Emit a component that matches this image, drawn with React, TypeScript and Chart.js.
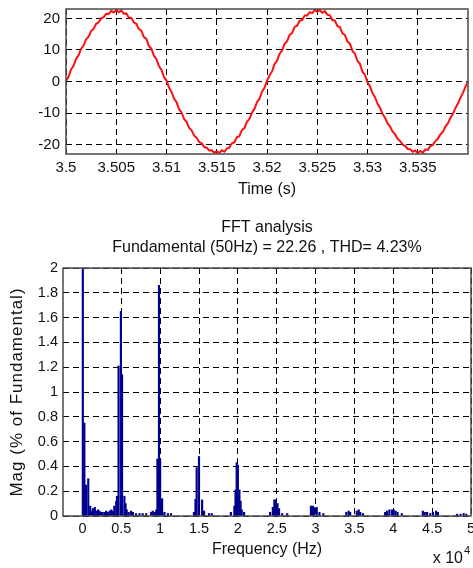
import React, { useEffect, useRef } from "react";
import { Chart, registerables } from "chart.js";

Chart.register(...registerables);

// ---------- top plot: current waveform ----------
const timeStart = 3.5;
const timeStep = 0.00025;
const currentValues = [
  0.2, 1.5, 3.8, 5.0, 7.2, 8.3, 10.4, 11.4, 13.4, 14.2,
  16.0, 16.7, 18.3, 18.8, 20.1, 20.4, 21.5, 21.4, 22.4, 21.9,
  22.7, 22.0, 22.5, 21.5, 21.6, 20.3, 20.2, 18.7, 18.3, 16.6,
  16.1, 14.1, 13.5, 11.3, 10.4, 8.2, 7.1, 4.9, 3.7, 1.4,
  0.3, -1.9, -3.3, -5.4, -6.6, -8.8, -9.8, -11.9, -12.8, -14.7,
  -15.5, -17.2, -17.8, -19.2, -19.6, -20.8, -21.0, -21.9, -21.8, -22.6,
  -22.1, -22.7, -21.8, -22.3, -21.3, -21.0, -19.6, -19.3, -17.7, -17.3,
  -15.4, -14.8, -12.8, -11.9, -9.9, -8.7, -6.6, -5.5, -3.2, -2.0,
  0.2, 1.9, 3.2, 5.5, 6.6, 8.8, 9.8, 12.0, 12.8, 14.8,
  15.4, 17.3, 17.7, 19.3, 19.5, 20.9, 20.9, 22.0, 21.7, 22.7,
  22.1, 22.6, 21.8, 22.3, 21.2, 21.0, 19.5, 19.3, 17.6, 17.3,
  15.3, 14.8, 12.7, 12.0, 9.7, 8.9, 6.5, 5.6, 3.1, 2.1,
  -0.2, -1.6, -3.7, -5.0, -7.1, -8.4, -10.3, -11.5, -13.3, -14.3,
  -15.9, -16.8, -18.2, -18.9, -20.0, -20.5, -21.4, -21.5, -22.3, -21.9,
  -22.8, -22.0, -22.6, -21.6, -21.7, -20.5, -20.1, -18.9, -18.2, -16.8,
  -16.0, -14.3, -13.3, -11.5, -10.3, -8.4, -7.0, -5.1, -3.6, -1.6,
  0.1,
];
const timeTickValues = [3.5, 3.505, 3.51, 3.515, 3.52, 3.525, 3.53, 3.535];
const timeTickLabels = ["3.5", "3.505", "3.51", "3.515", "3.52", "3.525", "3.53", "3.535"];
const currentTickValues = [-20, -10, 0, 10, 20];
const currentTickLabels = ["-20", "-10", "0", "10", "20"];
const timeAxisTitle = "Time (s)";

// ---------- bottom plot: FFT spectrum ----------
const fftFrequencies = [
  50, 250, 350, 450, 750, 1000, 1150, 1350, 1600, 1750,
  2000, 2200, 2400, 2600, 2850, 3050, 3250, 3500, 3700, 3900,
  4100, 4350, 4450, 4650, 4950, 5100, 5400, 5550, 5700, 5950,
  6250, 6500, 6900, 7350, 7750, 8200, 8850, 9050, 9300, 9500,
  9650, 9850, 10000, 10250, 10550, 11000, 11400,
  14350, 14550, 14700, 15000, 15400, 15650, 16300, 16650,
  19100, 19550, 19700, 19850, 20000, 20200, 20350, 20500, 20800,
  24150, 24500, 24700, 24900, 25100, 25300, 25700, 26350,
  29400, 29650, 29800, 30150, 30500, 31000,
  33950, 34250, 34450, 35300, 35550, 35750, 36100,
  38950, 39200, 39500, 39850, 40050, 40300, 40550, 41100,
  43800, 44050, 44350, 44750, 45100, 45500, 45750,
  48200, 48650, 49050, 49400,
];
const fftMagnitudes = [
  100, 0.75, 0.07, 0.25, 0.3, 0.08, 0.04, 0.06, 0.07, 0.04,
  0.05, 0.04, 0.03, 0.03, 0.03, 0.04, 0.03, 0.04, 0.05, 0.04,
  0.08, 0.12, 0.16, 1.21, 1.65, 1.14, 0.16, 0.1, 0.05, 0.03,
  0.04, 0.03, 0.02, 0.02, 0.02, 0.02, 0.03, 0.04, 0.03, 0.05,
  0.46, 1.86, 0.45, 0.14, 0.03, 0.02, 0.02,
  0.03, 0.135, 0.39, 0.48, 0.13, 0.04, 0.02, 0.02,
  0.03, 0.08, 0.21, 0.43, 0.41, 0.21, 0.12, 0.05, 0.03,
  0.03, 0.07, 0.13, 0.13, 0.1, 0.06, 0.02, 0.02,
  0.08, 0.08, 0.07, 0.07, 0.03, 0.02,
  0.03, 0.04, 0.03, 0.04, 0.05, 0.03, 0.02,
  0.03, 0.04, 0.05, 0.05, 0.05, 0.04, 0.03, 0.02,
  0.04, 0.03, 0.03, 0.02, 0.03, 0.04, 0.03,
  0.015, 0.015, 0.02, 0.015,
];
const freqTickValues = [0, 5000, 10000, 15000, 20000, 25000, 30000, 35000, 40000, 45000, 50000];
const freqTickLabels = ["0", "0.5", "1", "1.5", "2", "2.5", "3", "3.5", "4", "4.5", "5"];
const magTickValues = [0, 0.2, 0.4, 0.6, 0.8, 1, 1.2, 1.4, 1.6, 1.8, 2];
const magTickLabels = ["0", "0.2", "0.4", "0.6", "0.8", "1", "1.2", "1.4", "1.6", "1.8", "2"];
const fftTitleLines = ["FFT analysis", "Fundamental (50Hz) = 22.26 , THD= 4.23%"];
const freqAxisTitle = "Frequency (Hz)";
const magAxisTitle = "Mag (% of Fundamental)";
const freqExponentBase = "x 10";
const freqExponent = "4";

const FONT = "'Liberation Sans', Arial, Helvetica, sans-serif";
const TEXT = "#111111";

const framePlugin = {
  id: "frame",
  afterDatasetsDraw(chart: any) {
    const { ctx, chartArea: a } = chart;
    ctx.save();
    ctx.strokeStyle = "#4a4a4a";
    ctx.lineWidth = 1.5;
    ctx.strokeRect(a.left, a.top, a.right - a.left, a.bottom - a.top);
    ctx.restore();
  },
};

const fftTextPlugin = {
  id: "fftText",
  afterDraw(chart: any) {
    const { ctx, chartArea: a } = chart;
    ctx.save();
    ctx.fillStyle = TEXT;
    // rotated y title
    ctx.save();
    ctx.translate(17.5, (a.top + a.bottom) / 2);
    ctx.rotate(-Math.PI / 2);
    ctx.font = `17px ${FONT}`;
    (ctx as any).letterSpacing = "1px";
    ctx.textAlign = "center";
    ctx.textBaseline = "middle";
    ctx.fillText(magAxisTitle, 0, 0);
    ctx.restore();
    // exponent
    ctx.font = `16px ${FONT}`;
    ctx.textAlign = "right";
    ctx.textBaseline = "middle";
    ctx.fillText(freqExponentBase, a.right - 8, a.bottom + 43);
    ctx.font = `11px ${FONT}`;
    ctx.textAlign = "left";
    ctx.fillText(freqExponent, a.right - 7, a.bottom + 35);
    ctx.restore();
  },
};

function fixSize(size: number, horizontal: boolean) {
  return (scale: any) => {
    if (horizontal) scale.height = size;
    else scale.width = size;
    scale.paddingLeft = 0;
    scale.paddingRight = 0;
    scale.paddingTop = 0;
    scale.paddingBottom = 0;
  };
}

const gridCfg = { color: "#000000", lineWidth: 1, drawTicks: false, offset: false };
const borderCfg = { display: false, dash: [6, 4] };

export default function App() {
  const topRef = useRef<HTMLCanvasElement | null>(null);
  const botRef = useRef<HTMLCanvasElement | null>(null);

  useEffect(() => {
    if (!topRef.current || !botRef.current) return;

    const top = new Chart(topRef.current, {
      type: "line",
      data: {
        datasets: [
          {
            data: currentValues.map((v, i) => ({ x: timeStart + i * timeStep, y: v })),
            borderColor: "#ff1010",
            borderWidth: 2,
            pointRadius: 0,
            tension: 0,
            fill: false,
          },
        ],
      },
      options: {
        animation: false,
        responsive: false,
        maintainAspectRatio: false,
        layout: { padding: { left: 0, right: 5, top: 9, bottom: 0 } },
        plugins: { legend: { display: false }, tooltip: { enabled: false }, title: { display: false } },
        scales: {
          x: {
            type: "linear",
            min: 3.5,
            max: 3.54,
            offset: false,
            afterBuildTicks: (ax: any) => {
              ax.ticks = timeTickValues.map((v) => ({ value: v }));
            },
            afterFit: fixSize(46, true),
            ticks: {
              callback: (_v: any, i: number) => timeTickLabels[i],
              font: { family: FONT, size: 15 },
              color: TEXT,
              padding: 5,
              maxRotation: 0,
              autoSkip: false,
            },
            grid: gridCfg,
            border: borderCfg,
            title: {
              display: true,
              text: timeAxisTitle,
              color: TEXT,
              font: { family: FONT, size: 16 },
              padding: { top: 0, bottom: 1 },
            },
          },
          y: {
            type: "linear",
            min: -23,
            max: 23,
            afterBuildTicks: (ax: any) => {
              ax.ticks = currentTickValues.map((v) => ({ value: v }));
            },
            afterFit: fixSize(66, false),
            ticks: {
              callback: (_v: any, i: number) => currentTickLabels[i],
              font: { family: FONT, size: 15 },
              color: TEXT,
              padding: 6,
              autoSkip: false,
            },
            grid: gridCfg,
            border: borderCfg,
          },
        },
      },
      plugins: [framePlugin],
    } as any);

    const bot = new Chart(botRef.current, {
      type: "bar",
      data: {
        datasets: [
          {
            data: fftFrequencies.map((f, i) => ({ x: f, y: fftMagnitudes[i] })),
            backgroundColor: "#00008f",
            borderWidth: 0,
            barThickness: 1.5,
            grouped: false,
          },
        ],
      },
      options: {
        animation: false,
        responsive: false,
        maintainAspectRatio: false,
        layout: { padding: { left: 0, right: 2, top: 0, bottom: 0 } },
        plugins: {
          legend: { display: false },
          tooltip: { enabled: false },
          title: {
            display: true,
            fullSize: false,
            text: fftTitleLines,
            color: TEXT,
            font: { family: FONT, size: 16, weight: "normal", lineHeight: 1.25 },
            padding: { top: 18, bottom: 10 },
          },
        },
        scales: {
          x: {
            type: "linear",
            min: -2500,
            max: 50000,
            offset: false,
            afterBuildTicks: (ax: any) => {
              ax.ticks = freqTickValues.map((v) => ({ value: v }));
            },
            afterFit: fixSize(52, true),
            ticks: {
              callback: (_v: any, i: number) => freqTickLabels[i],
              font: { family: FONT, size: 14.5 },
              color: TEXT,
              padding: 4,
              maxRotation: 0,
              autoSkip: false,
            },
            grid: gridCfg,
            border: borderCfg,
            title: {
              display: true,
              text: freqAxisTitle,
              color: TEXT,
              font: { family: FONT, size: 16 },
              padding: { top: 0, bottom: 9 },
            },
          },
          y: {
            type: "linear",
            min: 0,
            max: 2,
            afterBuildTicks: (ax: any) => {
              ax.ticks = magTickValues.map((v) => ({ value: v }));
            },
            afterFit: fixSize(63, false),
            ticks: {
              callback: (_v: any, i: number) => magTickLabels[i],
              font: { family: FONT, size: 14.5 },
              color: TEXT,
              padding: 5,
              autoSkip: false,
            },
            grid: gridCfg,
            border: borderCfg,
          },
        },
      },
      plugins: [framePlugin, fftTextPlugin],
    } as any);

    return () => {
      top.destroy();
      bot.destroy();
    };
  }, []);

  return (
    <div style={{ position: "absolute", left: 0, top: 0, width: 473, height: 568, background: "#ffffff" }}>
      <canvas
        ref={topRef}
        width={473}
        height={200}
        style={{ position: "absolute", left: 0, top: 0, width: 473, height: 200, display: "block" }}
      />
      <canvas
        ref={botRef}
        width={473}
        height={368}
        style={{ position: "absolute", left: 0, top: 200, width: 473, height: 368, display: "block" }}
      />
    </div>
  );
}
